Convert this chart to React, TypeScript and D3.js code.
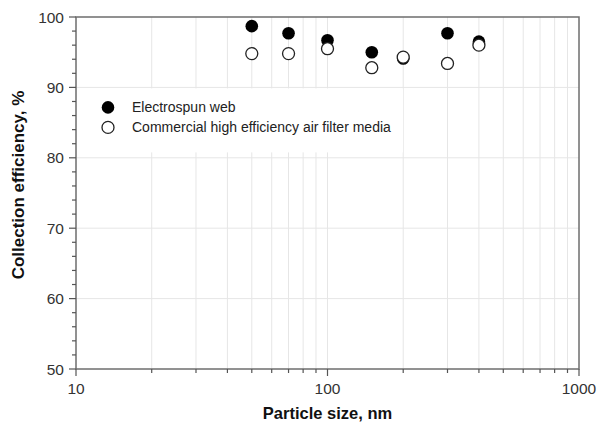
import { useRef, useEffect } from 'react';
import * as d3 from 'd3';

// particle sizes (nm) and collection efficiencies (%)
const sizes = [50, 70, 100, 150, 200, 300, 400];
const electrospun = [98.7, 97.7, 96.7, 95.0, 94.1, 97.7, 96.5];
const commercial = [94.8, 94.8, 95.5, 92.8, 94.3, 93.4, 96.0];
const yTicks = [50, 60, 70, 80, 90, 100];
const xTicks = [10, 100, 1000];
const legendLabels = ['Electrospun web', 'Commercial high efficiency air filter media'];

const W = 597;
const H = 426;

const App = () => {
  const ref = useRef<SVGSVGElement>(null);

  useEffect(() => {
    const svg = d3.select(ref.current);
    svg.selectAll('*').remove();
    const margin = { top: 17, right: 18, bottom: 57, left: 76 };
    const width = W - margin.left - margin.right;
    const height = H - margin.top - margin.bottom;
    const font = 'Liberation Sans, Arial, sans-serif';

    const x = d3.scaleLog().domain([10, 1000]).range([0, width]);
    const y = d3.scaleLinear().domain([50, 100]).range([height, 0]);

    const g = svg.append('g').attr('transform', `translate(${margin.left},${margin.top})`);

    // minor log ticks
    const minorX: number[] = [];
    for (const dec of [10, 100]) for (let k = 2; k <= 9; k++) minorX.push(dec * k);
    const minorY = d3.range(52, 100, 2).filter(v => v % 10 !== 0);

    // grid
    g.selectAll('.vgrid')
      .data([...minorX, 100])
      .enter().append('line')
      .attr('x1', d => x(d)).attr('x2', d => x(d))
      .attr('y1', 0).attr('y2', height)
      .attr('stroke', '#e6e6e6').attr('stroke-width', 1);
    g.selectAll('.hgrid')
      .data([60, 70, 80, 90])
      .enter().append('line')
      .attr('x1', 0).attr('x2', width)
      .attr('y1', d => y(d)).attr('y2', d => y(d))
      .attr('stroke', '#e6e6e6').attr('stroke-width', 1);

    // legend background
    g.append('rect')
      .attr('x', 1).attr('y', y(90) + 1)
      .attr('width', 326).attr('height', 64)
      .attr('fill', '#fff');

    // frame
    g.append('rect')
      .attr('width', width).attr('height', height)
      .attr('fill', 'none').attr('stroke', '#6e6e6e').attr('stroke-width', 1.5);

    // y ticks
    g.selectAll('.ymaj')
      .data(yTicks)
      .enter().append('line')
      .attr('x1', -7).attr('x2', 0)
      .attr('y1', d => y(d)).attr('y2', d => y(d))
      .attr('stroke', '#555').attr('stroke-width', 1.2);
    g.selectAll('.ymin')
      .data(minorY)
      .enter().append('line')
      .attr('x1', -4).attr('x2', 0)
      .attr('y1', d => y(d)).attr('y2', d => y(d))
      .attr('stroke', '#555').attr('stroke-width', 1.2);
    g.selectAll('.ylab')
      .data(yTicks)
      .enter().append('text')
      .attr('x', -12).attr('y', d => y(d) + 5.5)
      .attr('text-anchor', 'end')
      .attr('font-family', font).attr('font-size', 15.5).attr('fill', '#333')
      .text(d => d);

    // x ticks
    g.selectAll('.xmaj')
      .data(xTicks)
      .enter().append('line')
      .attr('x1', d => x(d)).attr('x2', d => x(d))
      .attr('y1', height).attr('y2', height + 7)
      .attr('stroke', '#555').attr('stroke-width', 1.2);
    g.selectAll('.xmin')
      .data(minorX)
      .enter().append('line')
      .attr('x1', d => x(d)).attr('x2', d => x(d))
      .attr('y1', height).attr('y2', height + 4)
      .attr('stroke', '#555').attr('stroke-width', 1.2);
    g.selectAll('.xlab')
      .data(xTicks)
      .enter().append('text')
      .attr('x', d => x(d)).attr('y', height + 25)
      .attr('text-anchor', 'middle')
      .attr('font-family', font).attr('font-size', 15.5).attr('fill', '#333')
      .text(d => d);

    // axis titles
    g.append('text')
      .attr('x', width / 2).attr('y', height + 50)
      .attr('text-anchor', 'middle')
      .attr('font-family', font).attr('font-size', 16.5).attr('font-weight', 'bold')
      .attr('fill', '#111')
      .text('Particle size, nm');
    g.append('text')
      .attr('transform', `translate(${-52},${height / 2 - 8}) rotate(-90)`)
      .attr('text-anchor', 'middle')
      .attr('font-family', font).attr('font-size', 17).attr('font-weight', 'bold')
      .attr('fill', '#111')
      .text('Collection efficiency, %');

    // data points
    g.selectAll('.filled')
      .data(sizes)
      .enter().append('circle')
      .attr('cx', d => x(d)).attr('cy', (d, i) => y(electrospun[i]))
      .attr('r', 6.3).attr('fill', '#000');
    g.selectAll('.open')
      .data(sizes)
      .enter().append('circle')
      .attr('cx', d => x(d)).attr('cy', (d, i) => y(commercial[i]))
      .attr('r', 6).attr('fill', '#fff')
      .attr('stroke', '#222').attr('stroke-width', 1.3);

    // legend
    const lg = g.append('g').attr('transform', `translate(32,${y(90) + 20})`);
    lg.append('circle').attr('cx', 0).attr('cy', 0).attr('r', 6.3).attr('fill', '#000');
    lg.append('circle').attr('cx', 0).attr('cy', 20).attr('r', 6)
      .attr('fill', '#fff').attr('stroke', '#222').attr('stroke-width', 1.3);
    lg.selectAll('.ltxt')
      .data(legendLabels)
      .enter().append('text')
      .attr('x', 24).attr('y', (d, i) => i * 20 + 5)
      .attr('font-family', font).attr('font-size', 14).attr('fill', '#222')
      .text(d => d);
  }, []);

  return (
    <svg ref={ref} width={W} height={H} style={{ position: 'absolute', left: 0, top: 0, background: '#fff' }}></svg>
  );
};

export default App;
